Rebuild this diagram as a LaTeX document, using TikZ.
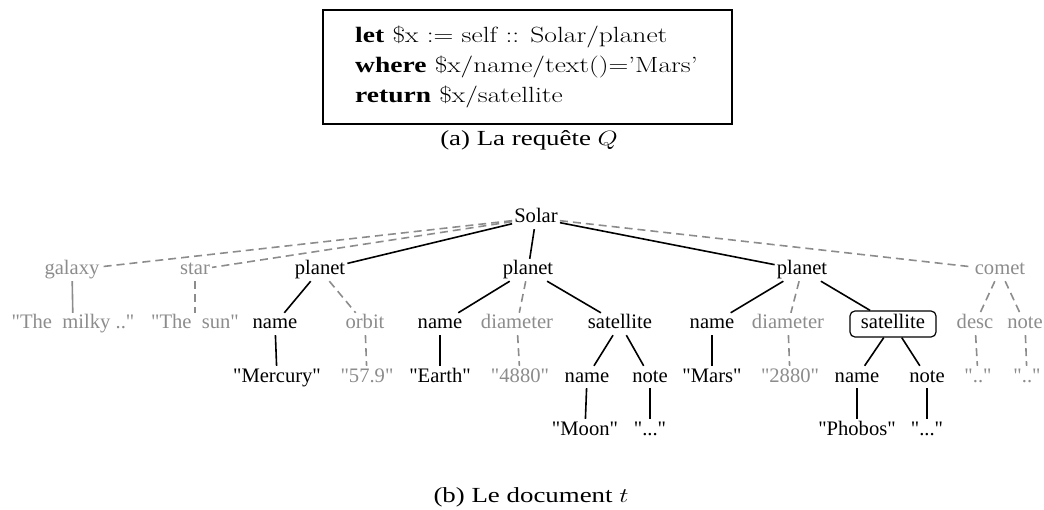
\documentclass[tikz,border=0pt]{standalone}
\usepackage{graphicx}
\usepackage{fontspec}
\newfontfamily\tms{Liberation Serif}
\colorlet{faded}{black!45}
\newcommand{\wide}[1]{\scalebox{1.25}[1]{#1}}
\tikzset{
  lbl/.style={font=\tms\fontsize{20.6}{22}\selectfont, inner sep=2pt,
    text height=14pt, text depth=4pt},
  dim/.style={lbl, text=faded},
  hit/.style={lbl, draw, rounded corners=5pt, line width=1.2pt,
    inner xsep=11pt, inner ysep=4pt},
  caption/.style={font=\tms\fontsize{21.5}{24}\selectfont, anchor=base},
}
\begin{document}
\begin{tikzpicture}[x=1pt,y=-1pt]
    \useasboundingbox (0,0) rectangle (1044,510);
    % the query
    \node (query) [draw, line width=1.2pt, minimum width=409pt,
      minimum height=114pt] at (527.5,67) {};
    \node (qtext) [anchor=west, inner sep=0pt,
      font=\fontsize{22}{30}\selectfont] at (355,67)
      {\wide{\begin{tabular}{@{}l@{}}
       {\tms\bfseries let} \$x := self :: Solar/planet\\
       {\tms\bfseries where} \$x/name/text()='Mars'\\
       {\tms\bfseries return} \$x/satellite
       \end{tabular}}};
    \node (capa) [caption] at (529,146) {\wide{(a) La requête $Q$}};
    % the document tree
    \begin{scope}[every node/.style={lbl}]
      \node (solar) at (536,218) {Solar};
      \node[dim] (galaxy) at (72,270) {galaxy};
      \node[dim] (star) at (195,270) {star};
      \node (p1) at (320,270) {planet};
      \node (p2) at (528,270) {planet};
      \node (p3) at (802,270) {planet};
      \node[dim] (comet) at (1000,270) {comet};
      \node[dim] (milky) at (73,324) {"The~ milky .."};
      \node[dim] (sun) at (195,324) {"The~ sun"};
      \node (n1) at (275,324) {name};
      \node[dim] (orbit) at (365,324) {orbit};
      \node (n2) at (440,324) {name};
      \node[dim] (d2) at (517,324) {diameter};
      \node (s2) at (620,324) {satellite};
      \node (n3) at (712,324) {name};
      \node[dim] (d3) at (788,324) {diameter};
      \node[hit] (s3) at (893,324) {satellite};
      \node[dim] (desc) at (975,324) {desc};
      \node[dim] (cnote) at (1025,324) {note};
      \node (mercury) at (277,377) {"Mercury"};
      \node[dim] (v579) at (367,377) {"57.9"};
      \node (earth) at (440,377) {"Earth"};
      \node[dim] (v4880) at (520,377) {"4880"};
      \node (sn2) at (587,377) {name};
      \node (snote2) at (650,377) {note};
      \node (mars) at (712,377) {"Mars"};
      \node[dim] (v2880) at (790,377) {"2880"};
      \node (sn3) at (857,377) {name};
      \node (snote3) at (927,377) {note};
      \node[dim] (cd) at (978,377) {".."};
      \node[dim] (cn) at (1027,377) {".."};
      \node (moon) at (585,430) {"Moon"};
      \node (dots2) at (650,430) {"..."};
      \node (phobos) at (857,430) {"Phobos"};
      \node (dots3) at (927,430) {"..."};
    \end{scope}
    \node (capb) [caption] at (531,502) {\wide{(b) Le document $t$}};
    \begin{scope}[every edge/.style={draw=black,line width=1.6pt}]
      \path (solar) edge (p1);
      \path (solar) edge (p2);
      \path (solar) edge (p3);
      \path (p1) edge (n1);
      \path (n1) edge (mercury);
      \path (p2) edge (n2);
      \path (p2) edge (s2);
      \path (n2) edge (earth);
      \path (s2) edge (sn2);
      \path (s2) edge (snote2);
      \path (sn2) edge (moon);
      \path (snote2) edge (dots2);
      \path (p3) edge (n3);
      \path (p3) edge (s3);
      \path (n3) edge (mars);
      \path (s3) edge (sn3);
      \path (s3) edge (snote3);
      \path (sn3) edge (phobos);
      \path (snote3) edge (dots3);
    \end{scope}
    \begin{scope}[every edge/.style={draw=faded,line width=1.6pt,
        dash pattern=on 8pt off 5pt}]
      \path (solar) edge (galaxy);
      \path (solar) edge (star);
      \path (solar) edge (comet);
      \path (galaxy) edge[solid] (milky);
      \path (star) edge (sun);
      \path (p1) edge (orbit);
      \path (orbit) edge (v579);
      \path (p2) edge (d2);
      \path (d2) edge (v4880);
      \path (p3) edge (d3);
      \path (d3) edge (v2880);
      \path (comet) edge (desc);
      \path (comet) edge (cnote);
      \path (desc) edge (cd);
      \path (cnote) edge (cn);
    \end{scope}
  \end{tikzpicture}
\end{document}
